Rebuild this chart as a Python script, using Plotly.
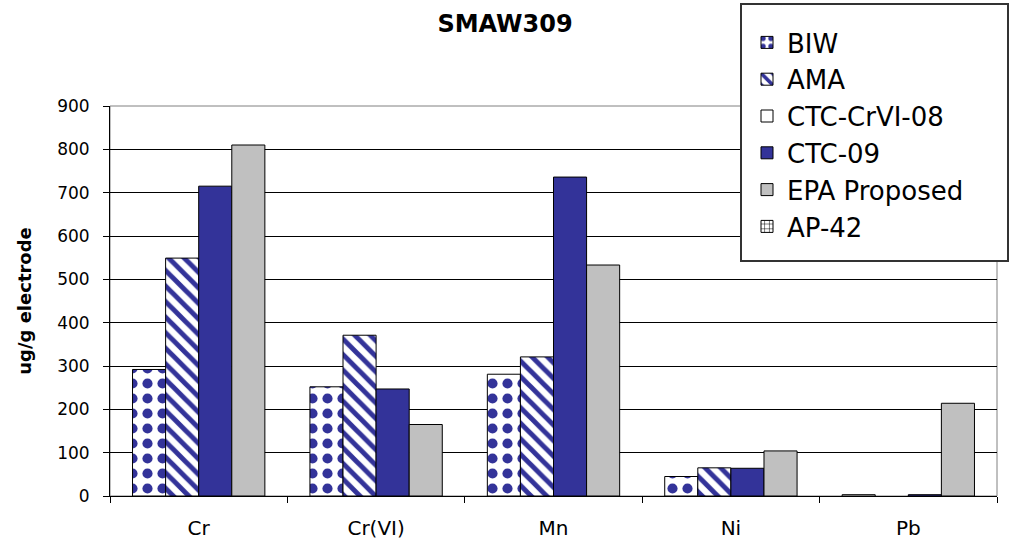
import plotly.graph_objects as go

categories = ["Cr", "Cr(VI)", "Mn", "Ni", "Pb"]
biw = [292, 252, 281, 45, 3]
ama = [549, 371, 321, 65, None]
ctc_crvi_08 = [None, None, None, None, None]
ctc_09 = [715, 247, 736, 64, 3]
epa = [810, 165, 533, 104, 214]
ap42 = [None, None, None, None, None]
y_ticks = [0, 100, 200, 300, 400, 500, 600, 700, 800, 900]

NAVY = "#333399"
FONT = "DejaVu Sans, Liberation Sans, Arial, sans-serif"

W, H = 1013, 544
ML, MR, MT, MB = 110, 16, 106, 48
PW, PH = W - ML - MR, H - MT - MB


def px_x(px):
    return (px - ML) / PW


def px_y(py):
    return (H - MB - py) / PH


fig = go.Figure()
line = dict(color="black", width=1)

fig.add_trace(go.Bar(name="BIW", x=categories, y=biw, offsetgroup="1",
                     marker=dict(color="white", line=line,
                                 pattern=dict(shape=".", fgcolor=NAVY, bgcolor="white",
                                              fgopacity=1, size=15, solidity=0.36,
                                              fillmode="replace"))))
fig.add_trace(go.Bar(name="AMA", x=categories, y=ama, offsetgroup="2",
                     marker=dict(color="white", line=line,
                                 pattern=dict(shape="\\", fgcolor=NAVY, bgcolor="white",
                                              fgopacity=1, size=11, solidity=0.45,
                                              fillmode="replace"))))
fig.add_trace(go.Bar(name="CTC-CrVI-08", x=categories, y=ctc_crvi_08, offsetgroup="2",
                     marker=dict(color="white", line=line)))
fig.add_trace(go.Bar(name="CTC-09", x=categories, y=ctc_09, offsetgroup="3",
                     marker=dict(color=NAVY, line=line)))
fig.add_trace(go.Bar(name="EPA Proposed", x=categories, y=epa, offsetgroup="4",
                     marker=dict(color="#C0C0C0", line=line)))
fig.add_trace(go.Bar(name="AP-42", x=categories, y=ap42, offsetgroup="4",
                     marker=dict(color="white", line=line,
                                 pattern=dict(shape="+", fgcolor="black", bgcolor="white",
                                              fgopacity=1, size=6, solidity=0.2,
                                              fillmode="replace"))))

fig.update_layout(
    width=W, height=H,
    margin=dict(l=ML, r=MR, t=MT, b=MB, autoexpand=False),
    paper_bgcolor="white", plot_bgcolor="white",
    barmode="group", bargap=0.254, bargroupgap=0,
    font=dict(family=FONT, color="black"),
    title=dict(text="<b>SMAW309</b>", x=505 / W, xref="container", xanchor="center",
               y=1 - 24 / H, yref="container", yanchor="middle",
               font=dict(family=FONT, size=24, color="black")),
    showlegend=True,
    legend=dict(x=747 / W, y=1 - 19 / H, xref="container", yref="container",
                xanchor="left", yanchor="top",
                bgcolor="rgba(0,0,0,0)", borderwidth=0,
                font=dict(family=FONT, size=26, color="black"),
                traceorder="normal", itemclick=False),
    shapes=[
        dict(type="rect", xref="paper", yref="paper", x0=0, x1=1, y0=0, y1=1,
             line=dict(color="#808080", width=1), layer="below"),
        dict(type="rect", xref="paper", yref="paper",
             x0=px_x(741), x1=px_x(1008), y0=px_y(261), y1=px_y(4),
             fillcolor="white", line=dict(color="#333333", width=2), layer="above"),
    ],
)

fig.update_xaxes(showline=True, linecolor="black", linewidth=1, automargin=False,
                 ticks="outside", tickson="boundaries", ticklen=6, tickcolor="black",
                 tickfont=dict(family=FONT, size=20, color="black"),
                 ticklabelstandoff=14, showgrid=False)
fig.update_yaxes(range=[0, 900], tickvals=y_ticks, showline=True, linecolor="black",
                 linewidth=1, ticks="outside", ticklen=6, tickcolor="black",
                 tickfont=dict(family=FONT, size=17, color="black"),
                 ticklabelstandoff=10, automargin=False,
                 showgrid=True, gridcolor="black", gridwidth=1, zeroline=False,
                 title=dict(text="<b>ug/g electrode</b>", standoff=20,
                            font=dict(family=FONT, size=18, color="black")))

fig.write_html("out.html", config={"displayModeBar": False},
               post_script="document.body.style.margin='0px';")
